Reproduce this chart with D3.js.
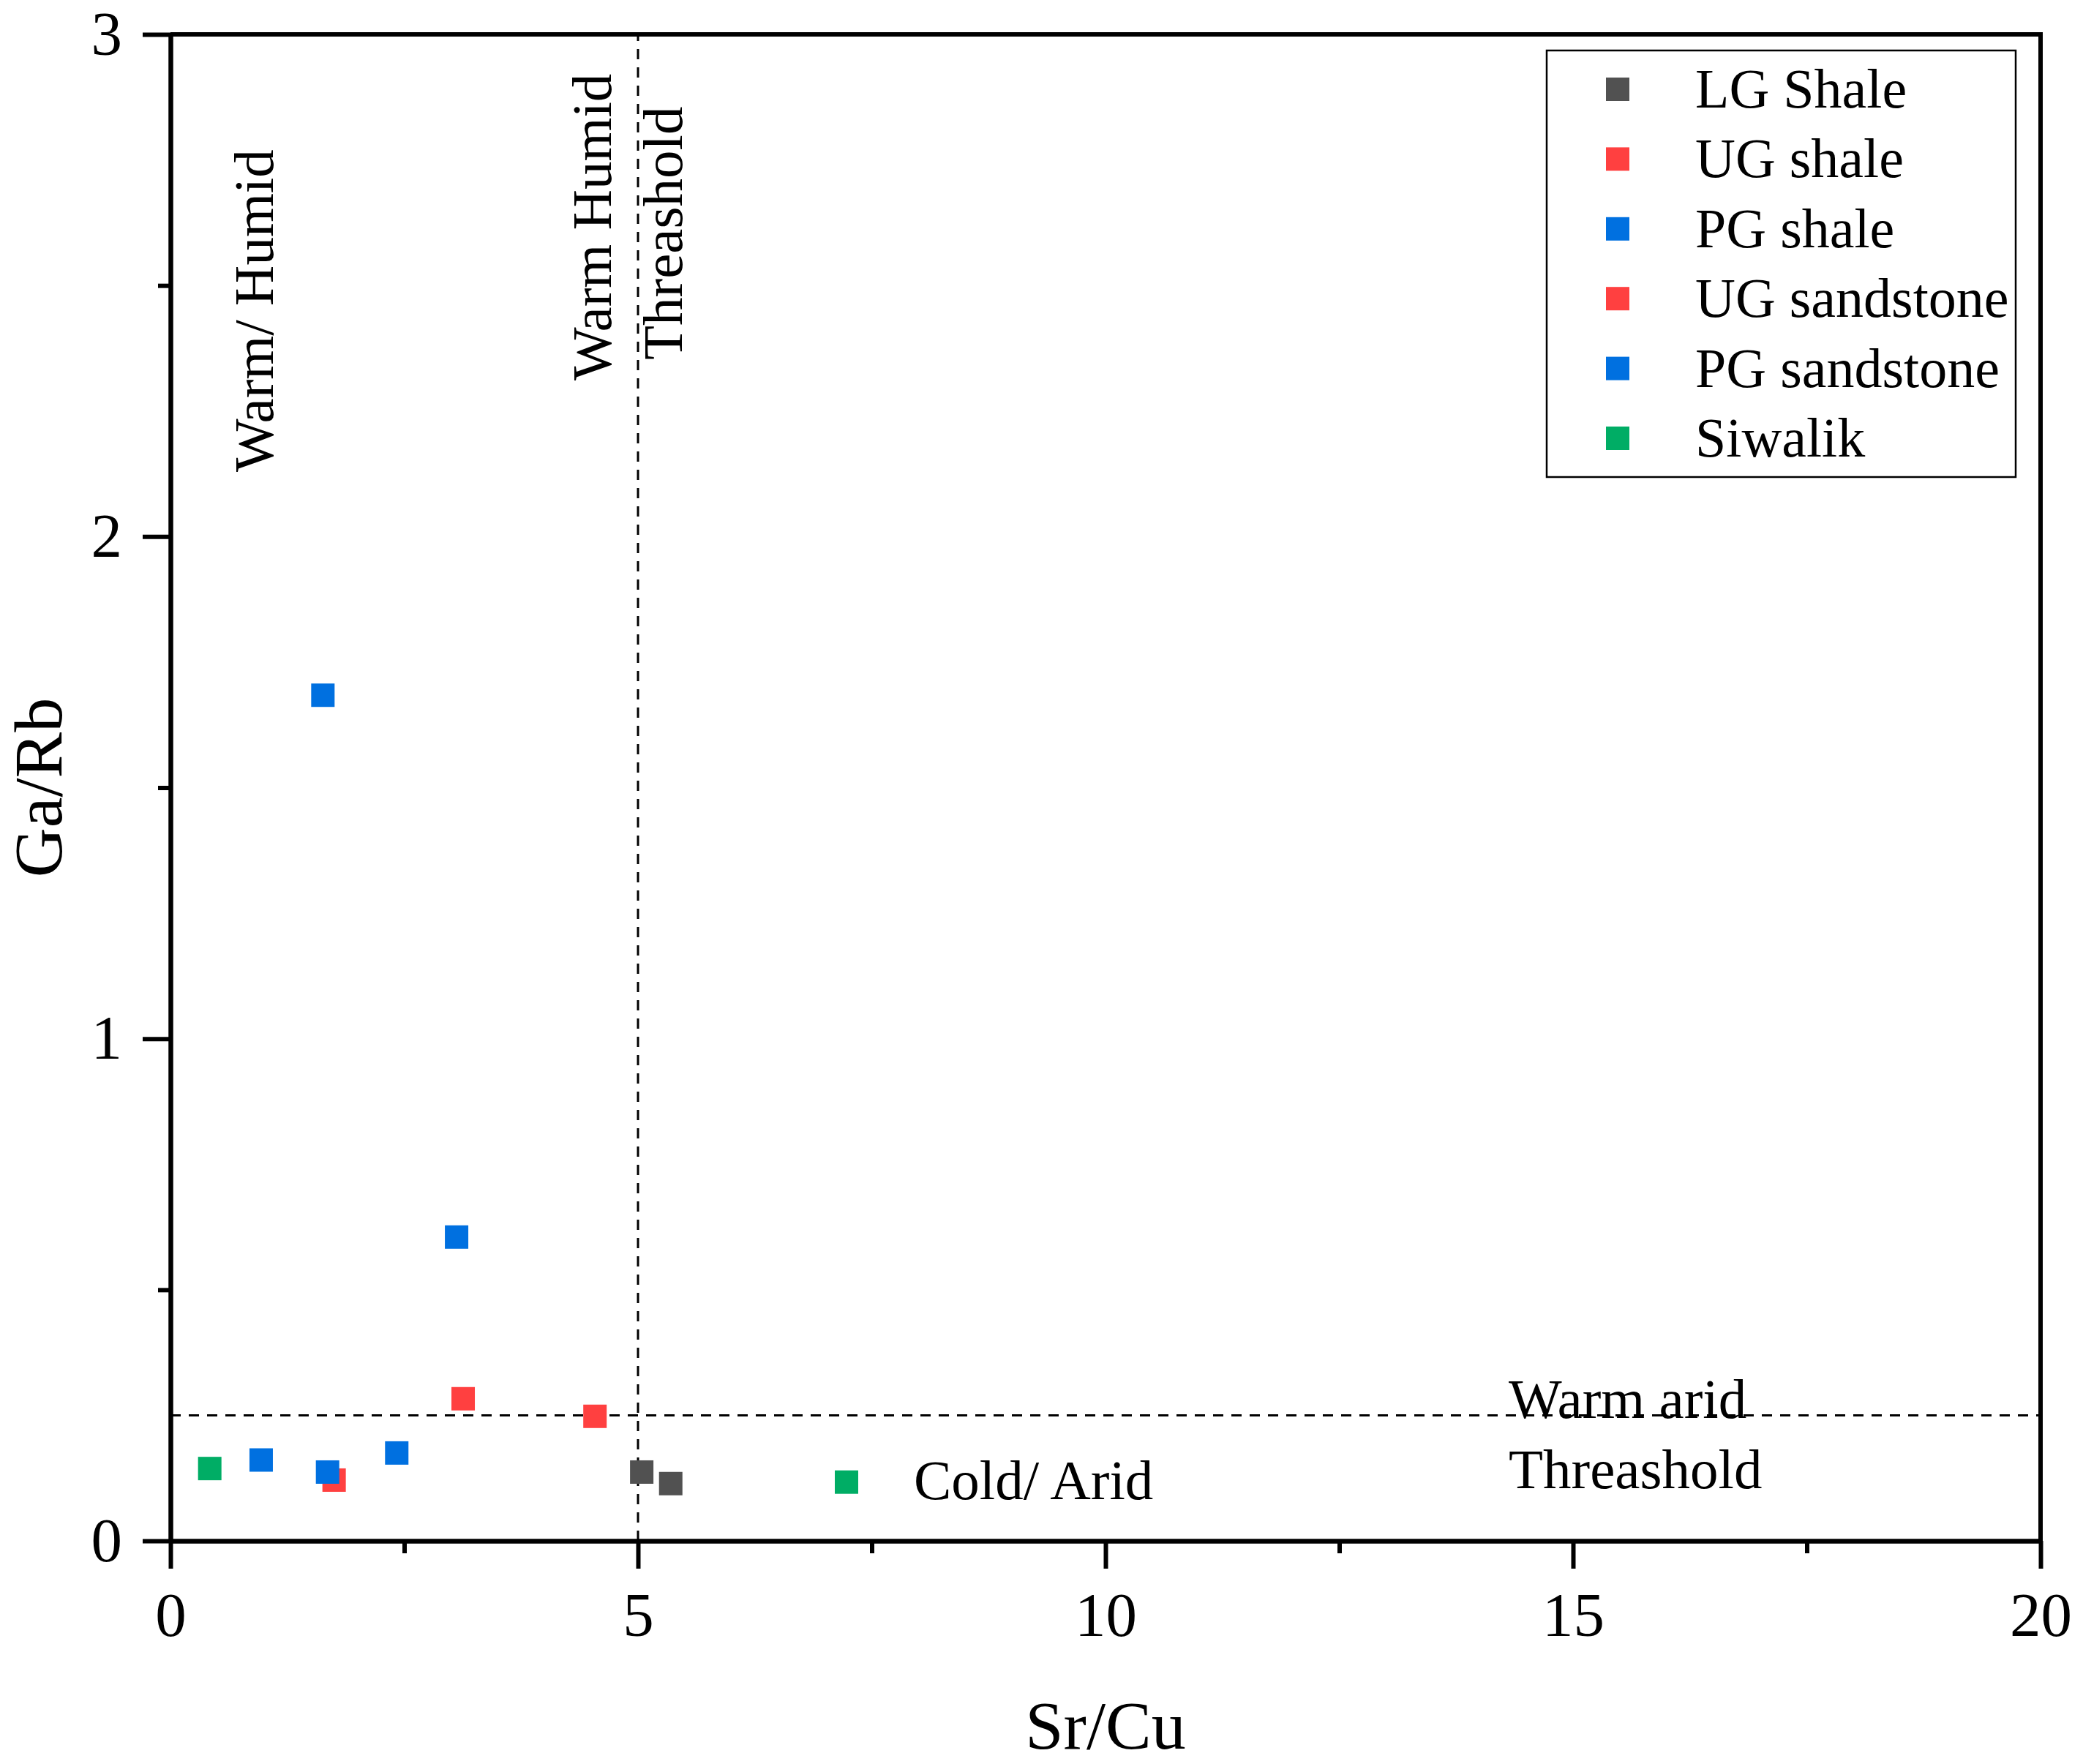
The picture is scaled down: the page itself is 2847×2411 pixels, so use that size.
<!doctype html>
<html>
<head>
  <meta charset="utf-8">
  <title>Ga/Rb vs Sr/Cu</title>
  <script src="https://d3js.org/d3.v7.min.js"></script>
  <style>
    body { margin: 0; background: #fff; }
    text { font-family: 'Liberation Serif', 'Times New Roman', serif; fill: #000; }
  </style>
</head>
<body>
<svg id="chart" width="2847" height="2411"></svg>
<script>
  // data
  var seriesNames = ["LG Shale", "UG shale", "PG shale", "UG sandstone", "PG sandstone", "Siwalik"];
  var seriesColors = ["#515151", "#ff4040", "#0070e0", "#ff4040", "#0070e0", "#00ad65"];

  var lgShaleX = [5.04, 5.35];
  var lgShaleY = [0.137, 0.114];
  var ugShaleX = [1.75, 3.13];
  var ugShaleY = [0.121, 0.283];
  var pgShaleX = [1.63, 3.06];
  var pgShaleY = [1.684, 0.605];
  var ugSandX = [4.54];
  var ugSandY = [0.248];
  var pgSandX = [0.97, 1.68, 2.42];
  var pgSandY = [0.161, 0.137, 0.175];
  var siwalikX = [0.42, 7.23];
  var siwalikY = [0.144, 0.117];

  var xTicks = [0, 5, 10, 15, 20];
  var xMinorTicks = [2.5, 7.5, 12.5, 17.5];
  var yTicks = [0, 1, 2, 3];
  var yMinorTicks = [0.5, 1.5, 2.5];

  var srCuThreshold = 5;
  var gaRbThreshold = 0.25;

  var allX = [lgShaleX, ugShaleX, pgShaleX, ugSandX, pgSandX, siwalikX];
  var allY = [lgShaleY, ugShaleY, pgShaleY, ugSandY, pgSandY, siwalikY];

  var points = [];
  for (var s = 0; s < allX.length; s++) {
    for (var i = 0; i < allX[s].length; i++) {
      points.push({series: s, x: allX[s][i], y: allY[s][i]});
    }
  }

  var plotLeft = 233, plotRight = 2789, plotTop = 47, plotBottom = 2106;
  var svg = d3.select("#chart");

  var x = d3.scaleLinear().domain([0, 20]).range([plotLeft, plotRight]);
  var y = d3.scaleLinear().domain([0, 3]).range([plotBottom, plotTop]);

  // threshold lines
  svg.append("line")
    .attr("x1", x(srCuThreshold)).attr("x2", x(srCuThreshold))
    .attr("y1", y(0)).attr("y2", y(3))
    .attr("stroke", "#000").attr("stroke-width", 3)
    .attr("stroke-dasharray", "14,11");
  svg.append("line")
    .attr("x1", x(0)).attr("x2", x(20))
    .attr("y1", y(gaRbThreshold)).attr("y2", y(gaRbThreshold))
    .attr("stroke", "#000").attr("stroke-width", 3)
    .attr("stroke-dasharray", "14,11");

  // points
  var size = 32;
  svg.append("g").selectAll("rect")
    .data(points)
    .enter().append("rect")
    .attr("x", d => x(d.x) - size / 2)
    .attr("y", d => y(d.y) - size / 2)
    .attr("width", size)
    .attr("height", size)
    .attr("fill", d => seriesColors[d.series]);

  // frame (top + right)
  svg.append("line").attr("x1", plotLeft).attr("x2", plotRight).attr("y1", plotTop).attr("y2", plotTop)
    .attr("stroke", "#000").attr("stroke-width", 6);
  svg.append("line").attr("x1", plotRight).attr("x2", plotRight).attr("y1", plotTop - 3).attr("y2", plotBottom)
    .attr("stroke", "#000").attr("stroke-width", 6);

  // axes
  function styleAxis(g) {
    g.select(".domain").attr("stroke-width", 6);
    g.selectAll(".tick line").attr("stroke-width", 6);
    g.selectAll("text").attr("font-size", 85).attr("font-family", "'Liberation Serif', serif");
  }

  svg.append("g")
    .attr("transform", "translate(0," + plotBottom + ")")
    .call(d3.axisBottom(x).tickValues(xMinorTicks).tickSize(17).tickSizeOuter(0).tickFormat(""))
    .call(styleAxis);
  svg.append("g")
    .attr("transform", "translate(0," + plotBottom + ")")
    .call(d3.axisBottom(x).tickValues(xTicks).tickSize(38).tickSizeOuter(0).tickPadding(32))
    .call(styleAxis);

  svg.append("g")
    .attr("transform", "translate(" + plotLeft + ",0)")
    .call(d3.axisLeft(y).tickValues(yMinorTicks).tickSize(17).tickSizeOuter(0).tickFormat(""))
    .call(styleAxis);
  svg.append("g")
    .attr("transform", "translate(" + plotLeft + ",0)")
    .call(d3.axisLeft(y).tickValues(yTicks).tickSize(38).tickSizeOuter(0).tickPadding(28).tickFormat(d3.format("d")))
    .call(styleAxis);

  // axis titles
  svg.append("text")
    .attr("x", (plotLeft + plotRight) / 2).attr("y", 2390)
    .attr("text-anchor", "middle").attr("font-size", 94)
    .text("Sr/Cu");
  svg.append("text")
    .attr("transform", "translate(84," + (plotTop + plotBottom) / 2 + ") rotate(-90)")
    .attr("text-anchor", "middle").attr("font-size", 94)
    .text("Ga/Rb");

  // region annotations
  function note(tx, ty, rot, label) {
    svg.append("text")
      .attr("transform", "translate(" + tx + "," + ty + ")" + (rot ? " rotate(-90)" : ""))
      .attr("font-size", 77)
      .text(label);
  }
  note(373, 645, true, "Warm/ Humid");
  note(835, 520, true, "Warm Humid");
  note(932, 492, true, "Threashold");
  note(1249, 2049, false, "Cold/ Arid");
  note(2062, 1938, false, "Warm arid");
  note(2062, 2034, false, "Threashold");

  // legend
  var legend = svg.append("g");
  legend.append("rect")
    .attr("x", 2114).attr("y", 69).attr("width", 641).attr("height", 583)
    .attr("fill", "#fff").attr("stroke", "#000").attr("stroke-width", 2.5);
  var items = legend.selectAll("g.item")
    .data(seriesNames)
    .enter().append("g")
    .attr("transform", (d, i) => "translate(2211," + (122 + i * 95.4) + ")");
  items.append("rect")
    .attr("x", -size / 2).attr("y", -size / 2)
    .attr("width", size).attr("height", size)
    .attr("fill", (d, i) => seriesColors[i]);
  items.append("text")
    .attr("x", 106).attr("y", 25)
    .attr("font-size", 76)
    .text(d => d);
</script>
</body>
</html>
